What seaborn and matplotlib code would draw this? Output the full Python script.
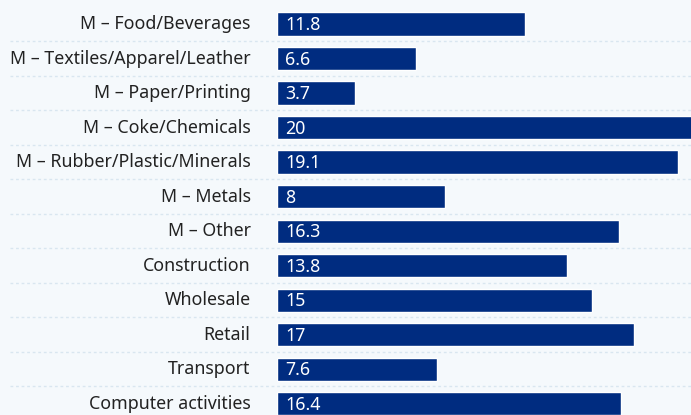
"""
Horizontal bar chart of values by sector.
"""
import numpy as np
import pandas as pd
from matplotlib import pyplot as plt
import seaborn as sns

sectors = [
    "M – Food/Beverages",
    "M – Textiles/Apparel/Leather",
    "M – Paper/Printing",
    "M – Coke/Chemicals",
    "M – Rubber/Plastic/Minerals",
    "M – Metals",
    "M – Other",
    "Construction",
    "Wholesale",
    "Retail",
    "Transport",
    "Computer activities",
]
values = [11.8, 6.6, 3.7, 20, 19.1, 8, 16.3, 13.8, 15, 17, 7.6, 16.4]

bg = "#f5f9fc"
bar_color = "#002c80"
grid_color = "#d9e6f0"

sns.set_style("white")
plt.rcParams["font.family"] = ["Noto Sans", "DejaVu Sans"]

data = pd.DataFrame({"sector": sectors, "value": values})

fig = plt.figure(figsize=(6.91, 4.15), dpi=100, facecolor=bg)
ax = fig.add_axes([277 / 691, 0, 414 / 691, 1])
ax.set_facecolor(bg)

sns.barplot(
    data=data,
    x="value",
    y="sector",
    orient="h",
    color=bar_color,
    saturation=1.0,
    width=0.67,
    ax=ax,
    zorder=3,
)

# Scale: ~21 px per unit, rows 34.5 px apart
ax.set_xlim(0, 414 / 21)
ax.set_ylim(11.33, -0.696)

# Dotted separators between rows
for y in np.arange(0.5, len(sectors) - 0.5, 1.0):
    ax.axhline(
        y,
        xmin=-267 / 414,
        xmax=1,
        color=grid_color,
        lw=1,
        ls=(0, (2, 2)),
        clip_on=False,
        zorder=1,
    )

# Value labels inside the bars
for i, v in enumerate(values):
    ax.text(
        0.4,
        i + 0.03,
        f"{v:g}",
        color="white",
        fontsize=12.8,
        ha="left",
        va="center",
        zorder=4,
    )

ax.set_xlabel("")
ax.set_ylabel("")
ax.set_xticks([])
ax.tick_params(axis="y", length=0, pad=19, labelsize=12.8, labelcolor="#222222")
for lbl in ax.get_yticklabels():
    lbl.set_va("center")
sns.despine(ax=ax, left=True, bottom=True, top=True, right=True)

plt.savefig("out.png", dpi=100, facecolor=bg)
